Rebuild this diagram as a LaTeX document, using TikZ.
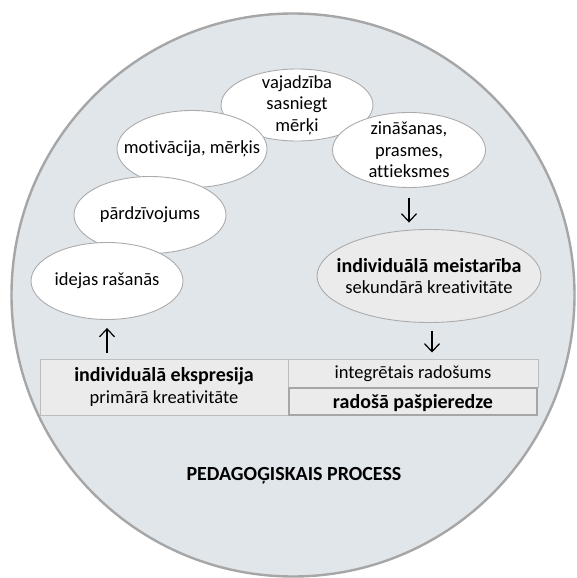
\documentclass[tikz,border=0pt]{standalone}
\usepackage{fontspec}
\setmainfont{Carlito}[Ligatures=NoCommon]
\usetikzlibrary{shapes.geometric,arrows.meta}
\definecolor{bgfill}{HTML}{E1E6EB}
\definecolor{bgline}{HTML}{A6A6A6}
\definecolor{elline}{HTML}{ABABAB}
\definecolor{boxfill}{HTML}{EBEBEB}
\definecolor{boxline}{HTML}{BDBDBD}
\newcommand{\bigbold}[1]{{\fontsize{20}{21.5}\selectfont\bfseries #1}}
\tikzset{
  bgcirc/.style={circle, draw=bgline, fill=bgfill, line width=2.4pt, minimum size=563pt, inner sep=0pt},
  txt/.style={align=center, inner sep=0pt, font=\fontsize{18.5}{21.5}\selectfont},
  oval/.style={ellipse, draw=elline, fill=white, line width=0.9pt, inner sep=0pt},
  grayoval/.style={oval, fill=boxfill},
  cell/.style={rectangle, draw=boxline, fill=boxfill, line width=1pt, inner sep=0pt, align=center,
    font=\fontsize{18.5}{21.5}\selectfont},
  thickcell/.style={cell, draw=bgline, line width=2.6pt},
  arr/.style={-{Straight Barb[length=8pt,width=15pt]}, line width=1.2pt, black},
}
\begin{document}
\begin{tikzpicture}[x=1pt,y=-1pt]
\useasboundingbox (0,0) rectangle (576,578);
\node[bgcirc] (bg) at (293,295) {};
\node[oval, minimum width=152pt, minimum height=72pt, label={[txt]center:vajadzība\\sasniegt\\mērķi}] (vaj) at (297,105) {};
\node[oval, minimum width=150pt, minimum height=77pt, label={[txt]center:motivācija, mērķis}] (mot) at (192,149) {};
\node[oval, minimum width=152pt, minimum height=77pt, label={[txt]center:pārdzīvojums}] (par) at (150,215) {};
\node[oval, minimum width=152pt, minimum height=77pt, label={[txt]center:idejas rašanās}] (ide) at (107,281) {};
\node[oval, minimum width=153pt, minimum height=75pt, label={[txt]center:zināšanas,\\prasmes,\\attieksmes}] (zin) at (409,150) {};
\node[grayoval, minimum width=224pt, minimum height=93pt, label={[txt]center:\bigbold{individuālā meistarība}\\sekundārā kreativitāte}] (mei) at (429,276) {};
\node[cell, minimum width=248pt, minimum height=56pt] (eks) at (164,387) {\bigbold{individuālā ekspresija}\\primārā kreativitāte};
\node[cell, minimum width=250pt, minimum height=28pt, text depth=1pt] (int) at (413,373) {integrētais radošums};
\node[thickcell, minimum width=248pt, minimum height=27pt, text depth=1pt] (rad) at (413,401.5) {\bigbold{radošā pašpieredze}};
\node[font=\fontsize{20}{21.5}\selectfont\bfseries] (ped) at (294,476) {PEDAGOĢISKAIS PROCESS};
\draw[arr, shorten <=6pt, shorten >=8pt] (eks.north -| ide.south) -- (ide.south);
\draw[arr, shorten <=10pt, shorten >=6.5pt] (zin.south) -- (zin.south |- mei.north);
\draw[arr, shorten <=8pt, shorten >=6pt] ([xshift=3pt]mei.south) -- ([xshift=3pt]int.north -| mei.south);
\end{tikzpicture}
\end{document}
